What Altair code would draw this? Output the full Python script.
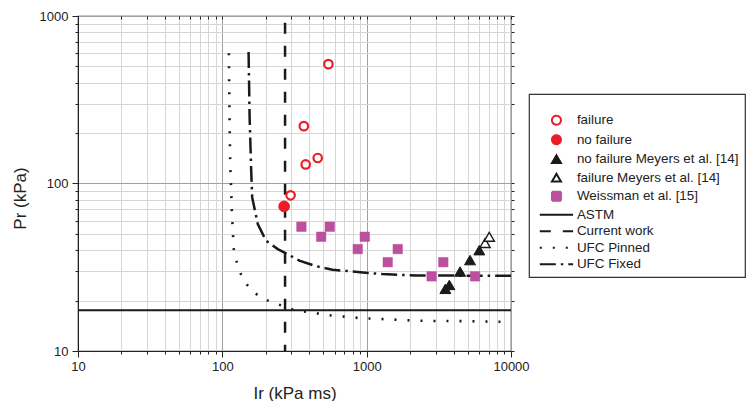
import altair as alt
import pandas as pd

# ---------------- data ----------------
failure_ir = [543, 367, 378, 458, 297]
failure_pr = [516, 220, 130, 142, 85]
nofail_ir = [268]
nofail_pr = [73]
meyers_nf_ir = [3510, 3740, 4440, 5200, 6030]
meyers_nf_pr = [23.5, 24.8, 29.8, 34.9, 40.0]
meyers_f_ir = [6610, 7070]
meyers_f_pr = [44.1, 48.1]
weiss_ir = [353, 484, 555, 867, 970, 1399, 1641, 2818, 3396, 5636]
weiss_pr = [55.2, 48.1, 55.2, 40.6, 48.1, 33.9, 40.6, 27.9, 33.9, 27.9]

astm_ir = [10, 10000]
astm_pr = [17.5, 17.5]
current_ir = [272, 272]
current_pr = [910, 10]
pinned_ir = [111, 112.5, 114, 115, 116.4, 120, 125, 131.5, 142.6, 158.5, 186, 224,
             325, 402, 483, 596, 737, 912, 1146, 1754, 2680, 4150, 6340, 10000]
pinned_pr = [600, 200, 112, 95, 67.4, 40.7, 34.7, 29.9, 25.9, 23.2, 20.7, 19.5,
             17.4, 17.1, 16.6, 16.2, 16.0, 15.7, 15.6, 15.3, 15.1, 15.1, 15.0, 14.9]
fixed_ir = [152, 154.5, 158.5, 161, 176, 201, 242, 270, 342, 447, 579, 940, 1285,
            2200, 3720, 10000]
fixed_pr = [610, 250, 119, 82.6, 57.3, 45.5, 40.6, 38.7, 34.6, 32.1, 30.6, 29.4,
            28.8, 28.2, 28.2, 28.1]

series_names = ["failure", "no failure", "no failure Meyers et al. [14]",
                "failure Meyers et al. [14]", "Weissman et al. [15]",
                "ASTM", "Current work", "UFC Pinned", "UFC Fixed"]

x_ticks = [10, 20, 30, 40, 50, 60, 70, 80, 90, 100, 200, 300, 400, 500, 600, 700,
           800, 900, 1000, 2000, 3000, 4000, 5000, 6000, 7000, 8000, 9000, 10000]
y_ticks = [10, 20, 30, 40, 50, 60, 70, 80, 90, 100, 200, 300, 400, 500, 600, 700,
           800, 900, 1000]
x_major = [10, 100, 1000, 10000]
y_major = [10, 100, 1000]

# ---------------- styles ----------------
RED = "#ec1c24"
PURPLE = "#bd4f9f"
BLACK = "#1a1a1a"
LINE_SYM = "M-3.7,0L3.7,0"
stroke_range = [RED, RED, BLACK, BLACK, PURPLE, BLACK, BLACK, BLACK, BLACK]
fill_range = ["white", RED, BLACK, "white", PURPLE,
              "transparent", "transparent", "transparent", "transparent"]
shape_range = ["circle", "circle", "triangle-up", "triangle-up", "square",
               LINE_SYM, LINE_SYM, LINE_SYM, LINE_SYM]
dash_range = [[1, 0], [1, 0], [1, 0], [1, 0], [1, 0],
              [1, 0], [11, 12], [2, 11], [16, 5, 2.5, 5]]
pt_size = {"failure": 72, "no failure": 115, "no failure Meyers et al. [14]": 120,
           "failure Meyers et al. [14]": 105, "Weissman et al. [15]": 90}
pt_sw = {"failure": 2.2, "no failure": 1, "no failure Meyers et al. [14]": 1,
         "failure Meyers et al. [14]": 1.4, "Weissman et al. [15]": 0.5}
ln_sw = {"ASTM": 2, "Current work": 2.5, "UFC Pinned": 2.6, "UFC Fixed": 2.5}

# ---------------- tables ----------------
rows = []
for name, xs, ys in [(series_names[0], failure_ir, failure_pr),
                     (series_names[1], nofail_ir, nofail_pr),
                     (series_names[2], meyers_nf_ir, meyers_nf_pr),
                     (series_names[3], meyers_f_ir, meyers_f_pr),
                     (series_names[4], weiss_ir, weiss_pr)]:
    for a, b in zip(xs, ys):
        rows.append({"series": name, "ir": a, "pr": b, "sz": pt_size[name], "sw": pt_sw[name]})
points_df = pd.DataFrame(rows)

lrows = []
for name, xs, ys in [(series_names[5], astm_ir, astm_pr),
                     (series_names[6], current_ir, current_pr),
                     (series_names[7], pinned_ir, pinned_pr),
                     (series_names[8], fixed_ir, fixed_pr)]:
    for i, (a, b) in enumerate(zip(xs, ys)):
        lrows.append({"series": name, "ir": a, "pr": b, "idx": i, "sw": ln_sw[name]})
lines_df = pd.DataFrame(lrows)

# ---------------- scales / axes ----------------
xscale = alt.Scale(type="log", domain=[10, 10000], nice=False)
yscale = alt.Scale(type="log", domain=[10, 1000], nice=False)

def is_major(vals):
    return "indexof(" + str(vals) + ", datum.value) >= 0"

def main_axis(title, ticks, major, **kw):
    return alt.Axis(
        title=title, values=ticks,
        labelExpr=is_major(major) + " ? format(datum.value, 'd') : ''",
        gridColor={"condition": {"test": is_major(major), "value": "#a0a0a0"}, "value": "#d6d6d6"},
        tickSize={"condition": {"test": is_major(major), "value": 6}, "value": 3},
        labelOverlap=False, labelFlush=False, labelBound=False,
        domainColor="#222", tickColor="#222", labelColor="#222", titleColor="#222",
        labelFontSize=13, titleFontSize=17, titleFontWeight="normal", **kw)

xaxis = main_axis("Ir (kPa ms)", x_ticks, x_major, orient="bottom",
                  labelPadding=3, titlePadding=12)
yaxis = main_axis("Pr (kPa)", y_ticks, y_major, orient="left", labelPadding=4,
                  titleX=-49, titleY=182, titleAlign="center", titleBaseline="bottom")

leg = alt.Legend(title=" ", orient="none", legendX=451, legendY=78)

def sc(rng):
    return alt.Scale(domain=series_names, range=rng)

lines = alt.Chart(lines_df).mark_line(clip=True).encode(
    x=alt.X("ir:Q", scale=xscale, axis=xaxis),
    y=alt.Y("pr:Q", scale=yscale, axis=yaxis),
    stroke=alt.Stroke("series:N", scale=sc(stroke_range), legend=leg),
    strokeDash=alt.StrokeDash("series:N", scale=sc(dash_range), legend=leg),
    strokeWidth=alt.StrokeWidth("sw:Q", scale=None, legend=None),
    order=alt.Order("idx:Q"),
)

points = alt.Chart(points_df).mark_point(clip=True, opacity=1).encode(
    x=alt.X("ir:Q", scale=xscale, axis=None),
    y=alt.Y("pr:Q", scale=yscale, axis=None),
    stroke=alt.Stroke("series:N", scale=sc(stroke_range), legend=leg),
    fill=alt.Fill("series:N", scale=sc(fill_range), legend=leg),
    shape=alt.Shape("series:N", scale=sc(shape_range), legend=leg),
    size=alt.Size("sz:Q", scale=None, legend=None),
    strokeWidth=alt.StrokeWidth("sw:Q", scale=None, legend=None),
)

frame_ticks = alt.Chart(points_df).mark_point(opacity=0).encode(
    x=alt.X("ir:Q", scale=xscale, axis=alt.Axis(
        orient="top", values=x_ticks, labels=False, title=None, grid=False,
        domain=False, offset=-3, tickSize=3, tickColor="#222")),
    y=alt.Y("pr:Q", scale=yscale, axis=alt.Axis(
        orient="right", values=y_ticks, labels=False, title=None, grid=False,
        domain=False, tickSize=3, tickColor="#222")),
)

chart = alt.layer(lines, points, frame_ticks).resolve_axis(
    x="independent", y="independent"
).properties(
    width=433, height=335,
    autosize=alt.AutoSizeParams(type="none"),
    padding={"left": 70, "top": 8, "right": 235, "bottom": 50},
).configure(
    font="Liberation Sans",
).configure_view(
    stroke="#222", strokeWidth=1.2,
).configure_legend(
    symbolSize=81, symbolStrokeWidth=2, labelFontSize=13.4, labelColor="#222",
    labelFont="Liberation Sans", strokeColor="#333", strokeWidth=1.2,
    padding=6, rowPadding=1.5, symbolOffset=14.75, labelOffset=13.75,
    titleFontSize=8, titlePadding=5.5, labelLimit=400,
)

chart.save("out.html", embed_options={"renderer": "svg", "actions": False})
